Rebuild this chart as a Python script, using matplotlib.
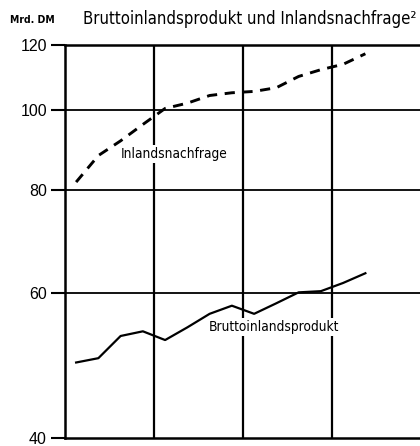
import matplotlib
matplotlib.use("Agg")
import matplotlib.pyplot as plt
from matplotlib.ticker import FixedLocator, NullLocator

# quarterly values, Mrd. DM (log scale)
quarters = list(range(14))
bip = [49.4, 50.0, 53.2, 53.9, 52.6, 54.5, 56.6, 57.9, 56.6, 58.3, 60.1, 60.3, 61.7, 63.4]
inland = [81.8, 88.1, 91.8, 96.1, 100.5, 102.0, 104.2, 105.0, 105.4, 106.5, 109.9, 112.0, 113.7, 117.1]
yticks = [40, 60, 80, 100, 120]
year_bounds = [3.5, 7.5, 11.5]

NARROW = ["DejaVu Sans"]
plt.rcParams["font.family"] = ["Liberation Sans", "DejaVu Sans"]

fig = plt.figure(figsize=(4.20, 4.46), dpi=100)
ax = fig.add_axes([65 / 420, 1 - 438 / 446, 356 / 420, (438 - 45) / 446])

ax.set_yscale("log")
ax.set_ylim(40, 120)
ax.set_xlim(-0.5, 15.5)
ax.yaxis.set_major_locator(FixedLocator(yticks))
ax.yaxis.set_minor_locator(NullLocator())
ax.set_yticklabels([str(t) for t in yticks])
ax.set_xticks([])
ax.tick_params(axis="y", length=10, width=1.5, labelsize=11.5, pad=3)

ax.spines["right"].set_visible(False)
for s in ["left", "top", "bottom"]:
    ax.spines[s].set_linewidth(1.8)

for v in [60, 80, 100]:
    ax.axhline(v, color="black", lw=1.3, zorder=1)
for xb in year_bounds:
    ax.axvline(xb, color="black", lw=1.6, zorder=1)

ax.plot(quarters, bip, color="black", lw=1.6, zorder=3)
ax.plot(quarters, inland, color="black", lw=2.1, dashes=(3.5, 2.6), zorder=3)

box = dict(facecolor="white", edgecolor="none", pad=1.5)
ax.text(2.0, 88.4, "Inlandsnachfrage", fontsize=9.8, family=NARROW,
        stretch="condensed", va="center", ha="left", bbox=box, zorder=4)
ax.text(5.98, 54.5, "Bruttoinlandsprodukt", fontsize=9.8, family=NARROW,
        stretch="condensed", va="center", ha="left", bbox=box, zorder=4)

fig.text(10 / 420, 1 - 20 / 446, "Mrd. DM", fontsize=7.5, fontweight="bold",
         family=NARROW, stretch="condensed", va="center", ha="left")
fig.text(83 / 420, 1 - 19 / 446, "Bruttoinlandsprodukt und Inlandsnachfrage²",
         fontsize=12, family=NARROW, stretch="condensed", va="center", ha="left")

fig.savefig("out.png", dpi=100)
